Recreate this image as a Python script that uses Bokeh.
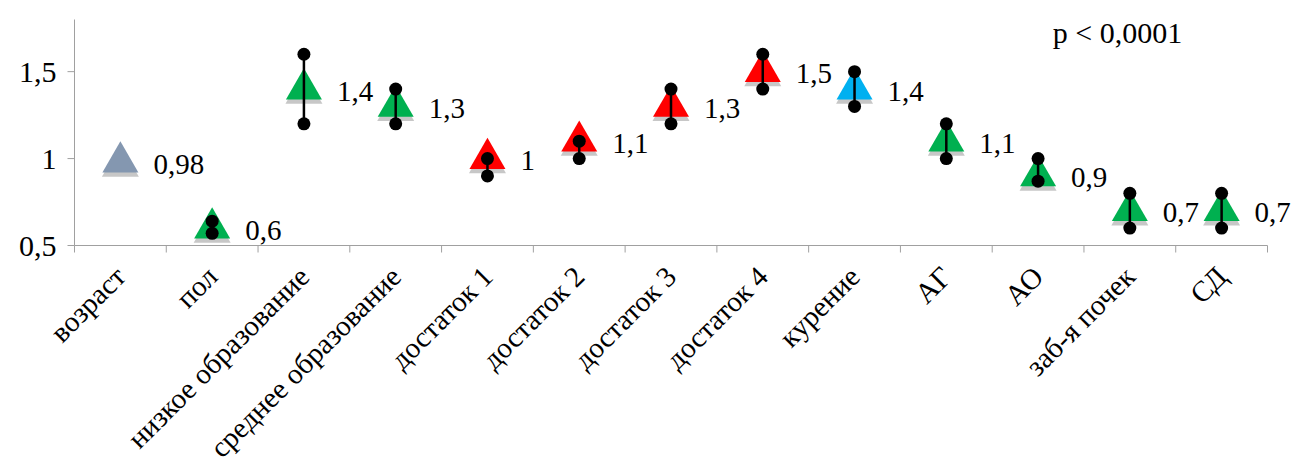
import math

import numpy as np
from bokeh.core.properties import value
from bokeh.embed import file_html
from bokeh.models import ColumnDataSource, Label, Range1d
from bokeh.plotting import figure
from bokeh.resources import INLINE

# Odds ratios with 95% confidence limits for each risk factor
categories = ["возраст", "пол", "низкое образование", "среднее образование",
              "достаток 1", "достаток 2", "достаток 3", "достаток 4",
              "курение", "АГ", "АО", "заб-я почек", "СД"]
odds = [0.98, 0.6, 1.4, 1.3, 1.0, 1.1, 1.3, 1.5, 1.4, 1.1, 0.9, 0.7, 0.7]
ci_low = [float("nan"), 0.57, 1.2, 1.2, 0.9, 1.0, 1.2, 1.4, 1.3, 1.0, 0.87, 0.6, 0.6]
ci_high = [float("nan"), 0.64, 1.6, 1.4, 1.0, 1.1, 1.4, 1.6, 1.5, 1.2, 1.0, 0.8, 0.8]
marker_colors = ["#8497b0", "#00b050", "#00b050", "#00b050",
                 "#ff0000", "#ff0000", "#ff0000", "#ff0000",
                 "#00b0f0", "#00b050", "#00b050", "#00b050", "#00b050"]
y_ticks = [0.5, 1.0, 1.5]
y_tick_labels = ["0,5", "1", "1,5"]
p_value_text = "p < 0,0001"

SERIF = "Liberation Serif"
AXIS_GREY = "#a0a0a0"

W, H = 1307, 464
LEFT, TOP = 74, 19
AXIS_W, AXIS_H = 1193, 226           # extent of the drawn axes in pixels
Y_MIN, Y_MAX = 0.5, 1.8
n = len(categories)
xs = np.arange(n) + 0.5

# The plotting frame covers the whole canvas, so nothing (rotated category
# labels, the last value label) gets clipped; the axes are drawn inside it and
# span only 0..n and Y_MIN..Y_MAX.
px_x = n / AXIS_W
px_y = (Y_MAX - Y_MIN) / AXIS_H
x_range = Range1d(-LEFT * px_x, (W - LEFT) * px_x)
y_range = Range1d(Y_MAX - (H - TOP) * px_y, Y_MAX + TOP * px_y)

p = figure(width=W, height=H, output_backend="svg", toolbar_location=None,
           x_range=x_range, y_range=y_range,
           x_axis_type=None, y_axis_type=None, min_border=0,
           min_border_left=0, min_border_right=0,
           min_border_top=0, min_border_bottom=0)
p.outline_line_color = None
p.xgrid.visible = False
p.ygrid.visible = False
p.background_fill_color = "white"
p.border_fill_color = "white"

# value axis: line, outward ticks and labels with decimal comma
p.line(x=[0, 0], y=[Y_MIN, Y_MAX], line_color=AXIS_GREY, line_width=1)
p.ray(x=[0] * len(y_ticks), y=y_ticks, length=7, length_units="screen",
      angle=math.pi, line_color=AXIS_GREY, line_width=1)
p.text(x=[0] * len(y_ticks), y=y_ticks, text=y_tick_labels,
       x_offset=-18, y_offset=1, text_align="right", text_baseline="middle",
       text_font=value(SERIF), text_font_size="30px", text_color="black")

# category axis: base line, boundary ticks and rotated labels
p.line(x=[0, n], y=[Y_MIN, Y_MIN], line_color=AXIS_GREY, line_width=1)
p.ray(x=list(range(n + 1)), y=[Y_MIN] * (n + 1), length=7, length_units="screen",
      angle=-math.pi / 2, line_color=AXIS_GREY, line_width=1)
p.text(x=xs, y=[Y_MIN] * n, text=categories, angle=math.pi / 4,
       x_offset=0, y_offset=26, text_align="right", text_baseline="middle",
       text_font=value(SERIF), text_font_size="29px", text_color="black")

labels = [f"{v:g}".replace(".", ",") for v in odds]
src = ColumnDataSource(dict(x=xs, y=odds, lo=ci_low, hi=ci_high,
                            color=marker_colors, label=labels))

# soft shadow under each triangle
shadow = ColumnDataSource(dict(x=xs, y=np.array(odds) - 4 * px_y))
p.scatter("x", "y", source=shadow, marker="triangle", size=37,
          fill_color="black", fill_alpha=0.22, line_color=None)

p.scatter("x", "y", source=src, marker="triangle", size=36,
          fill_color="color", line_color=None)

# confidence intervals
p.segment("x", "lo", "x", "hi", source=src, line_color="black", line_width=2.5)
p.scatter("x", "lo", source=src, size=13, fill_color="black", line_color=None)
p.scatter("x", "hi", source=src, size=13, fill_color="black", line_color=None)

# value labels
p.text("x", "y", text="label", source=src, x_offset=33, y_offset=2,
       text_align="left", text_baseline="middle",
       text_font=value(SERIF), text_font_size="29px", text_color="black")

p.add_layout(Label(x=10.66, y=1.725, text=p_value_text, text_font=SERIF,
                   text_font_size="30px", text_color="black",
                   text_baseline="alphabetic"))

open("out.html", "w").write(file_html(p, INLINE))
